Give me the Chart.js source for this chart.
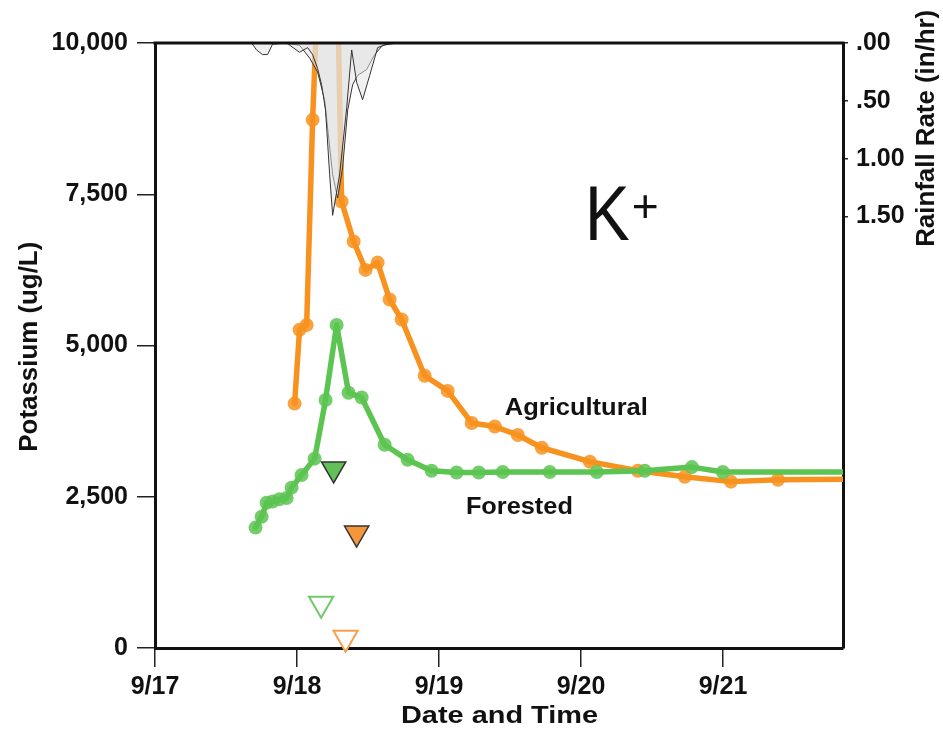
<!DOCTYPE html>
<html>
<head>
<meta charset="utf-8">
<title>K+ Potassium and Rainfall</title>
<script src="https://cdn.jsdelivr.net/npm/chart.js@4.4.1/dist/chart.umd.min.js"></script>
<style>
  html, body { margin: 0; padding: 0; background: #fff; }
  #wrap { width: 943px; height: 729px; position: relative; }
</style>
</head>
<body>
<div id="wrap"><canvas id="chartK"></canvas></div>
<script>
// x values are days after 9/17 00:00
const dayTicks = [0, 1, 2, 3, 4];
const dayLabels = ['9/17', '9/18', '9/19', '9/20', '9/21'];
const potassiumTicks = [0, 2500, 5000, 7500, 10000];
const rainTicks = [0, 0.5, 1.0, 1.5];

// Agricultural site, potassium ug/L (peak runs off the top of the plot)
const agDays = [0.983, 1.018, 1.068, 1.110, 1.240, 1.314, 1.399, 1.483, 1.568, 1.652, 1.737, 1.899,
  2.061, 2.230, 2.393, 2.555, 2.724, 3.062, 3.400, 3.731, 4.056, 4.387, 4.845];
const agK = [4040, 5260, 5340, 8730, 16500, 7380, 6720, 6250, 6370, 5760, 5430, 4500,
  4250, 3720, 3660, 3520, 3310, 3080, 2930, 2830, 2750, 2780, 2790];

// Forested site, potassium ug/L
const forDays = [0.708, 0.751, 0.786, 0.828, 0.877, 0.927, 0.962, 1.032, 1.124, 1.201, 1.279, 1.363,
  1.455, 1.617, 1.779, 1.948, 2.124, 2.280, 2.449, 2.780, 3.111, 3.449, 3.781, 3.999, 4.845];
const forK = [1990, 2170, 2400, 2420, 2460, 2480, 2650, 2860, 3130, 4100, 5340, 4220,
  4140, 3360, 3110, 2930, 2900, 2900, 2910, 2910, 2910, 2930, 2990, 2910, 2910];

// rainfall rate (in/hr), two gauges
const rainDaysA = [0.680, 0.715, 0.757, 0.793, 0.828, 0.927, 1.018, 1.075, 1.110, 1.145, 1.173,
  1.201, 1.230, 1.251, 1.300, 1.350, 1.385, 1.420, 1.462, 1.512, 1.568, 1.652];
const rainA = [0, 0.06, 0.10, 0.10, 0.01, 0, 0.08, 0.04, 0.10, 0.22, 0.36,
  0.58, 1.14, 1.49, 1.14, 0.56, 0.06, 0.34, 0.49, 0.28, 0.04, 0];
const rainDaysB = [0.913, 1.018, 1.089, 1.145, 1.194, 1.251, 1.286, 1.321, 1.357, 1.392, 1.427,
  1.490, 1.547, 1.603, 1.700];
const rainB = [0, 0.02, 0.13, 0.25, 0.49, 1.14, 1.34, 1.08, 0.58, 0.36, 0.28,
  0.23, 0.10, 0.02, 0];

// triangle markers
const forPeakDay = [1.258], forPeakK = [2960];
const agPeakDay = [1.420], agPeakK = [1900];
const forStartDay = [1.170], forStartK = [730];
const agStartDay = [1.342], agStartK = [170];

const FONT = "'Liberation Sans', Arial, Helvetica, sans-serif";
const ORANGE = '#f7921e';
const GREEN = '#5cc451';

function toPoints(xs, ys) {
  return xs.map((x, i) => ({ x: x, y: ys[i] }));
}

function fitText(ctx, text, x, y, font, width, angle) {
  ctx.save();
  ctx.font = font;
  const sx = width / ctx.measureText(text).width;
  ctx.translate(x, y);
  ctx.rotate(angle || 0);
  ctx.scale(sx, 1);
  ctx.textAlign = 'center';
  ctx.textBaseline = 'alphabetic';
  ctx.fillStyle = '#111';
  ctx.fillText(text, 0, 0);
  ctx.restore();
}

const labelsPlugin = {
  id: 'labels',
  afterDraw(chart) {
    const { ctx, chartArea, scales } = chart;
    const px = v => scales.x.getPixelForValue(v);
    const py = v => scales.y.getPixelForValue(v);

    ctx.save();
    ctx.strokeStyle = '#111';
    ctx.lineWidth = 3;
    ctx.beginPath();
    ctx.moveTo(chartArea.left - 1.5, chartArea.top);
    ctx.lineTo(chartArea.right + 1.5, chartArea.top);
    ctx.stroke();
    ctx.restore();

    // axis titles
    fitText(ctx, 'Potassium (ug/L)', 36.7, 346.7, 'bold 25px ' + FONT, 210, -Math.PI / 2);
    fitText(ctx, 'Rainfall Rate (in/hr)', 934.3, 128.3, 'bold 26px ' + FONT, 237, -Math.PI / 2);
    fitText(ctx, 'Date and Time', 499.5, 723.3, 'bold 24px ' + FONT, 197, 0);

    // series labels
    fitText(ctx, 'Agricultural', px(2.967), py(3854), 'bold 23px ' + FONT, 143, 0);
    fitText(ctx, 'Forested', px(2.566), py(2217), 'bold 23px ' + FONT, 107, 0);

    // ion label
    fitText(ctx, 'K', px(3.185), py(6749), '77px ' + FONT, 45, 0);
    fitText(ctx, '+', px(3.453), py(7036), '46px ' + FONT, 27, 0);
  }
};

function axisGrid(len) {
  return { drawOnChartArea: false, drawTicks: true, tickLength: len, color: '#222', lineWidth: 1.5 };
}

const tickFont = { family: FONT, size: 25, weight: 'bold' };

const ctx = document.getElementById('chartK').getContext('2d');
new Chart(ctx, {
  type: 'line',
  data: {
    datasets: [
      {
        label: 'Rain A', data: toPoints(rainDaysA, rainA), yAxisID: 'yRain',
        fill: 'origin', backgroundColor: 'rgba(226,226,226,0.5)', borderColor: '#333',
        borderWidth: 1, pointRadius: 0, tension: 0, order: 0
      },
      {
        label: 'Rain B', data: toPoints(rainDaysB, rainB), yAxisID: 'yRain',
        fill: 'origin', backgroundColor: 'rgba(226,226,226,0.5)', borderColor: '#333',
        borderWidth: 1, pointRadius: 0, tension: 0, order: 0
      },
      {
        type: 'scatter', label: 'Forested peak', data: toPoints(forPeakDay, forPeakK), yAxisID: 'y',
        pointStyle: 'triangle', rotation: 180, pointRadius: 14,
        backgroundColor: '#62c059', borderColor: '#333', borderWidth: 1.5, order: 1
      },
      {
        type: 'scatter', label: 'Agricultural peak', data: toPoints(agPeakDay, agPeakK), yAxisID: 'y',
        pointStyle: 'triangle', rotation: 180, pointRadius: 14,
        backgroundColor: '#f6963c', borderColor: '#333', borderWidth: 1.5, order: 1
      },
      {
        type: 'scatter', label: 'Forested start', data: toPoints(forStartDay, forStartK), yAxisID: 'y',
        pointStyle: 'triangle', rotation: 180, pointRadius: 14,
        backgroundColor: '#fff', borderColor: '#70c96a', borderWidth: 2, order: 1, clip: false
      },
      {
        type: 'scatter', label: 'Agricultural start', data: toPoints(agStartDay, agStartK), yAxisID: 'y',
        pointStyle: 'triangle', rotation: 180, pointRadius: 14,
        backgroundColor: '#fff', borderColor: '#f6a050', borderWidth: 2, order: 1, clip: false
      },
      {
        label: 'Agricultural', data: toPoints(agDays, agK), yAxisID: 'y',
        borderColor: ORANGE, borderWidth: 5.5, tension: 0, fill: false,
        borderJoinStyle: 'round', borderCapStyle: 'round',
        pointRadius: c => (c.dataIndex === agDays.length - 1 ? 0 : 7),
        pointBackgroundColor: 'rgba(247,146,30,0.85)', pointBorderWidth: 0, order: 3
      },
      {
        label: 'Forested', data: toPoints(forDays, forK), yAxisID: 'y',
        borderColor: GREEN, borderWidth: 5.5, tension: 0, fill: false,
        borderJoinStyle: 'round', borderCapStyle: 'round',
        pointRadius: c => (c.dataIndex === forDays.length - 1 ? 0 : 7),
        pointBackgroundColor: 'rgba(92,196,81,0.85)', pointBorderWidth: 0, order: 2
      }
    ]
  },
  options: {
    responsive: true,
    maintainAspectRatio: false,
    animation: false,
    events: [],
    layout: { padding: { top: 43, left: 0, right: 0, bottom: 0 } },
    plugins: { legend: { display: false }, tooltip: { enabled: false } },
    scales: {
      x: {
        type: 'linear', position: 'bottom', min: 0, max: 4.845,
        afterBuildTicks: s => { s.ticks = dayTicks.map(v => ({ value: v })); },
        afterFit: s => { s.height = 81; },
        ticks: {
          callback: v => dayLabels[dayTicks.indexOf(v)],
          font: tickFont, color: '#111', padding: 5, maxRotation: 0, autoSkip: false
        },
        grid: axisGrid(19),
        border: { color: '#111', width: 3 }
      },
      y: {
        type: 'linear', position: 'left', min: 0, max: 10000,
        afterBuildTicks: s => { s.ticks = potassiumTicks.map(v => ({ value: v })); },
        afterFit: s => { s.width = 155; },
        ticks: {
          callback: v => v.toLocaleString('en-US'),
          font: tickFont, color: '#111', padding: 9
        },
        grid: axisGrid(18),
        border: { color: '#111', width: 3 }
      },
      yRain: {
        type: 'linear', position: 'right', reverse: true, min: 0, max: 5.23,
        afterBuildTicks: s => { s.ticks = rainTicks.map(v => ({ value: v })); },
        afterFit: s => { s.width = 100; },
        ticks: {
          callback: v => v.toFixed(2).replace(/^0/, ''),
          font: tickFont, color: '#111', padding: 8
        },
        grid: axisGrid(5),
        border: { color: '#111', width: 3 }
      }
    }
  },
  plugins: [labelsPlugin]
});
</script>
</body>
</html>
